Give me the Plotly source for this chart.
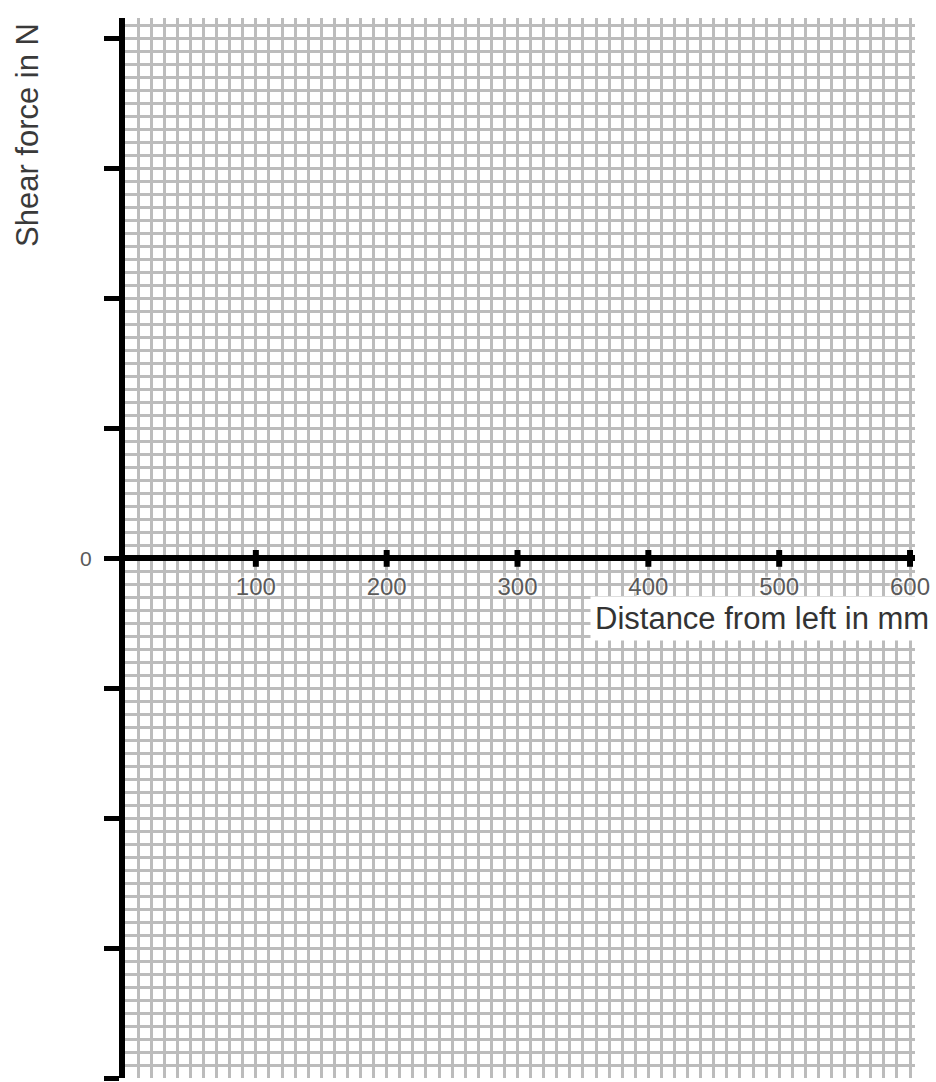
import plotly.graph_objects as go

# Axis values (empty graph paper)
x_tick_values = [100, 200, 300, 400, 500, 600]
x_tick_labels = ["100", "200", "300", "400", "500", "600"]
y_tick_values = [-4, -3, -2, -1, 0, 1, 2, 3, 4]
y_tick_labels = ["", "", "", "", "0", "", "", "", ""]
x_title = "Distance from left in mm"
y_title = "Shear force in N"

x_range = [0, 603.8]
y_range = [-4.0, 4.16]

grid_color = "#bcbcbc"
halo = "0px 0px 3px white, 0px 0px 3px white, 0px 0px 2px white"

L, R, T, B = 125, 21, 18, 4
PW = 936 - L - R
PH = 1082 - T - B

fig = go.Figure()

# tick bumps on the horizontal axis line
fig.add_trace(go.Scatter(
    x=x_tick_values, y=[0] * len(x_tick_values),
    mode="markers",
    marker=dict(symbol="line-ns", size=12, line=dict(width=6, color="black")),
    hoverinfo="skip", showlegend=False, cliponaxis=False,
))

xpos = (0 - y_range[0]) / (y_range[1] - y_range[0])

fig.update_layout(
    width=936, height=1082,
    margin=dict(l=L, r=R, t=T, b=B),
    paper_bgcolor="white", plot_bgcolor="white",
    showlegend=False,
    font=dict(family="Liberation Sans, Arial, sans-serif"),
    xaxis=dict(
        range=x_range, anchor="free", position=xpos,
        tickmode="array", tickvals=x_tick_values, ticktext=x_tick_labels,
        ticks="", ticklabelstandoff=5,
        tickfont=dict(size=24, color="#5a5a5a", shadow=halo),
        showgrid=True, gridcolor=grid_color, gridwidth=3.2,
        minor=dict(tick0=0, dtick=10, showgrid=True, gridcolor=grid_color, gridwidth=3.2),
        showline=True, linecolor="black", linewidth=6,
        zeroline=False, fixedrange=True,
    ),
    yaxis=dict(
        range=y_range,
        tickmode="array", tickvals=y_tick_values, ticktext=y_tick_labels,
        ticks="outside", ticklen=15, tickwidth=5, tickcolor="black",
        ticklabelstandoff=8,
        tickfont=dict(size=21, color="#5a5a5a"),
        showgrid=True, gridcolor=grid_color, gridwidth=3.2,
        minor=dict(tick0=0, dtick=0.1, showgrid=True, gridcolor=grid_color, gridwidth=3.2),
        showline=True, linecolor="black", linewidth=6,
        zeroline=False, fixedrange=True,
    ),
    annotations=[
        dict(text=x_title, xref="paper", x=(934 - L) / PW, xanchor="right",
             yref="y", y=0, yanchor="middle", yshift=-60, showarrow=False,
             font=dict(size=31, color="#333333"), bgcolor="white", borderpad=4),
        dict(text=y_title, xref="paper", x=(27 - L) / PW, xanchor="center",
             yref="paper", y=1 - (135 - T) / PH, yanchor="middle",
             textangle=-90, showarrow=False,
             font=dict(size=31, color="#3a3a3a")),
    ],
)

fig.write_html("out.html", config={"displayModeBar": False},
               post_script="document.body.style.margin='0';")
